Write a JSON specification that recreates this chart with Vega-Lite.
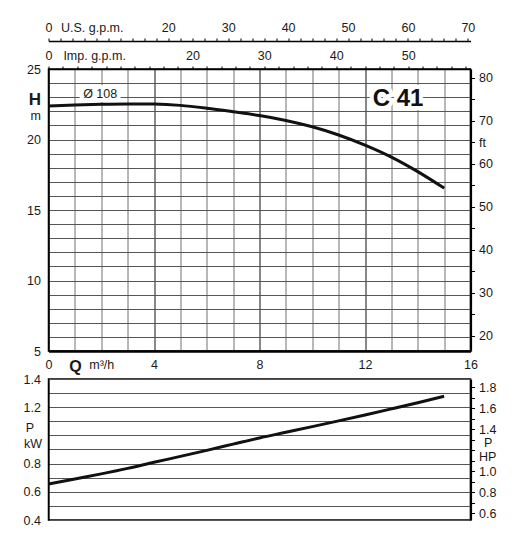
{
  "$schema": "https://vega.github.io/schema/vega-lite/v6.json",
  "background": "white",
  "padding": {"left": 21.5, "top": 20, "right": 5, "bottom": 5},
  "config": {
    "font": "Liberation Sans",
    "view": {"stroke": "black", "strokeWidth": 1.5},
    "axis": {
      "labelFont": "Liberation Sans",
      "labelFontSize": 12.5,
      "labelColor": "#1a1a1a",
      "labelOverlap": false,
      "labelFlush": false,
      "labelBound": false,
      "domainColor": "black",
      "tickColor": "black",
      "gridOpacity": 1
    },
    "text": {"font": "Liberation Sans"}
  },
  "datasets": {
    "head": [
      {"Q": 0, "H": 22.38}, {"Q": 1, "H": 22.45}, {"Q": 2, "H": 22.5}, {"Q": 3, "H": 22.52},
      {"Q": 4, "H": 22.51}, {"Q": 5, "H": 22.42}, {"Q": 6, "H": 22.22}, {"Q": 7, "H": 21.97},
      {"Q": 8, "H": 21.7}, {"Q": 9, "H": 21.35}, {"Q": 10, "H": 20.9}, {"Q": 11, "H": 20.32},
      {"Q": 12, "H": 19.6}, {"Q": 13, "H": 18.75}, {"Q": 14, "H": 17.72}, {"Q": 15, "H": 16.55}
    ],
    "power": [
      {"Q": 0, "P": 0.655}, {"Q": 1, "P": 0.691}, {"Q": 2, "P": 0.727}, {"Q": 3, "P": 0.766},
      {"Q": 4, "P": 0.809}, {"Q": 5, "P": 0.851}, {"Q": 6, "P": 0.894}, {"Q": 7, "P": 0.938},
      {"Q": 8, "P": 0.982}, {"Q": 9, "P": 1.022}, {"Q": 10, "P": 1.062}, {"Q": 11, "P": 1.103},
      {"Q": 12, "P": 1.145}, {"Q": 13, "P": 1.188}, {"Q": 14, "P": 1.232}, {"Q": 15, "P": 1.278}
    ],
    "notes": [
      {"label": "Ø 108", "Q": 1.96, "H": 23.2}
    ],
    "model": [
      {"label": "C 41", "Q": 13.25, "H": 22.85}
    ]
  },
  "spacing": 28,
  "bounds": "flush",
  "vconcat": [
    {
      "width": 422,
      "height": 282,
      "layer": [
        {
          "data": {"name": "head"},
          "mark": {"type": "line", "interpolate": "monotone", "color": "#111", "strokeWidth": 3},
          "encoding": {
            "x": {
              "field": "Q", "type": "quantitative", "title": null,
              "scale": {"domain": [0, 16], "nice": false, "zero": false},
              "axis": {
                "orient": "bottom",
                "values": [0,1,2,3,4,5,6,7,8,9,10,11,12,13,14,15,16],
                "grid": true,
                "gridColor": {"condition": {"test": "datum.value % 4 === 0", "value": "#111"}, "value": "#707070"},
                "gridWidth": 1,
                "ticks": false,
                "tickSize": 0,
                "domainWidth": 2.5,
                "labelPadding": 7,
                "labelExpr": "datum.value === 1 ? 'Q' : (datum.value === 2 ? 'm³/h' : (datum.value % 4 === 0 ? datum.label : ''))",
                "labelFontWeight": {"condition": {"test": "datum.value === 1", "value": "bold"}, "value": "normal"},
                "labelFontSize": {"condition": {"test": "datum.value === 1", "value": 16}, "value": 12.5}
              }
            },
            "y": {
              "field": "H", "type": "quantitative", "title": null,
              "scale": {"domain": [5, 25], "nice": false, "zero": false},
              "axis": {
                "orient": "left",
                "values": [5,6,7,8,9,10,11,12,13,14,15,16,17,18,19,20,21,22,23,24,25],
                "grid": true,
                "gridColor": "#555",
                "gridWidth": 1,
                "ticks": false,
                "tickSize": 0,
                "domainWidth": 1.2,
                "labelPadding": 8,
                "labelExpr": "datum.value === 23 ? 'H' : (datum.value === 22 ? 'm' : (datum.value % 5 === 0 ? datum.label : ''))",
                "labelFontWeight": {"condition": {"test": "datum.value === 23", "value": "bold"}, "value": "normal"},
                "labelFontSize": {"condition": {"test": "datum.value === 23", "value": 17}, "value": 12.5},
                "labelOffset": {"condition": [{"test": "datum.value === 23", "value": 2}, {"test": "datum.value === 22", "value": 4}], "value": 0}
              }
            }
          }
        },
        {
          "data": {"name": "notes"},
          "mark": {"type": "text", "fontSize": 12.5, "fill": "white", "stroke": "white", "strokeWidth": 8, "strokeJoin": "round"},
          "encoding": {
            "x": {"field": "Q", "type": "quantitative", "axis": null},
            "y": {"field": "H", "type": "quantitative", "axis": null},
            "text": {"field": "label"}
          }
        },
        {
          "data": {"name": "notes"},
          "mark": {"type": "text", "fontSize": 12.5, "color": "#1a1a1a"},
          "encoding": {
            "x": {"field": "Q", "type": "quantitative", "axis": null},
            "y": {"field": "H", "type": "quantitative", "axis": null},
            "text": {"field": "label"}
          }
        },
        {
          "data": {"name": "model"},
          "mark": {"type": "text", "fontSize": 24, "fontWeight": "bold", "fill": "white", "stroke": "white", "strokeWidth": 8, "strokeJoin": "miter"},
          "encoding": {
            "x": {"field": "Q", "type": "quantitative", "axis": null},
            "y": {"field": "H", "type": "quantitative", "axis": null},
            "text": {"field": "label"}
          }
        },
        {
          "data": {"name": "model"},
          "mark": {"type": "text", "fontSize": 24, "fontWeight": "bold", "color": "#111"},
          "encoding": {
            "x": {"field": "Q", "type": "quantitative", "axis": null},
            "y": {"field": "H", "type": "quantitative", "axis": null},
            "text": {"field": "label"}
          }
        },
        {
          "data": {"name": "head"},
          "mark": {"type": "point", "opacity": 0},
          "encoding": {
            "x": {
              "field": "Q", "type": "quantitative", "title": null,
              "axis": {
                "orient": "top",
                "offset": 28,
                "values": [0,0.45425,0.9085,1.36275,1.817,2.27125,2.7255,3.17975,3.634,4.08824,4.54249,4.99674,5.45099,5.90524,6.35949,6.81374,7.26799,7.72224,8.17649,8.63074,9.08499,9.53924,9.99349,10.44774,10.90199,11.35624,11.81048,12.26473,12.71898,13.17323,13.62748,14.08173,14.53598,14.99023,15.44448,15.89873],
                "grid": false,
                "ticks": true,
                "tickSize": 3,
                "tickWidth": 1,
                "domainWidth": 1.5,
                "labelPadding": 4,
                "labelExpr": "round(datum.value * 4.40287) === 2 ? 'U.S. g.p.m.' : (round(datum.value * 4.40287) % 10 === 0 && round(datum.value * 4.40287) !== 10 ? format(round(datum.value * 4.40287), 'd') : '')",
                "labelAlign": {"condition": {"test": "round(datum.value * 4.40287) === 2", "value": "left"}, "value": "center"}
              }
            },
            "y": {
              "field": "H", "type": "quantitative", "title": null,
              "axis": {
                "orient": "right",
                "values": [6.096,7.62,9.144,10.668,12.192,13.716,15.24,16.764,18.288,19.812,21.336,22.86,24.384],
                "grid": false,
                "ticks": true,
                "tickSize": 4,
                "tickWidth": 1,
                "domainWidth": 2.2,
                "labelPadding": 4,
                "labelExpr": "round(datum.value / 0.3048) === 65 ? 'ft' : (round(datum.value / 0.3048) % 10 === 0 ? format(round(datum.value / 0.3048), 'd') : '')"
              }
            }
          }
        },
        {
          "data": {"name": "head"},
          "mark": {"type": "point", "opacity": 0},
          "encoding": {
            "x": {
              "field": "Q", "type": "quantitative", "title": null,
              "axis": {
                "orient": "top",
                "offset": 0,
                "values": [0,0.54553,1.09106,1.63659,2.18213,2.72766,3.27319,3.81872,4.36425,4.90978,5.45532,6.00085,6.54638,7.09191,7.63744,8.18297,8.72851,9.27404,9.81957,10.3651,10.91063,11.45616,12.0017,12.54723,13.09276,13.63829,14.18382,14.72935,15.27489,15.82042],
                "grid": false,
                "ticks": true,
                "tickSize": 3,
                "tickWidth": 1,
                "domainWidth": 1.5,
                "labelPadding": 4,
                "labelExpr": "round(datum.value * 3.66615) === 2 ? 'Imp. g.p.m.' : (round(datum.value * 3.66615) % 10 === 0 && round(datum.value * 3.66615) !== 10 ? format(round(datum.value * 3.66615), 'd') : '')",
                "labelAlign": {"condition": {"test": "round(datum.value * 3.66615) === 2", "value": "left"}, "value": "center"}
              }
            },
            "y": {"field": "H", "type": "quantitative", "axis": null}
          }
        }
      ],
      "resolve": {"axis": {"x": "independent", "y": "independent"}}
    },
    {
      "width": 422,
      "height": 141,
      "layer": [
        {
          "data": {"name": "power"},
          "mark": {"type": "line", "interpolate": "monotone", "color": "#111", "strokeWidth": 3},
          "encoding": {
            "x": {
              "field": "Q", "type": "quantitative", "title": null,
              "scale": {"domain": [0, 16], "nice": false, "zero": false},
              "axis": {
                "orient": "bottom",
                "values": [0,1,2,3,4,5,6,7,8,9,10,11,12,13,14,15,16],
                "grid": true,
                "gridColor": {"condition": {"test": "datum.value % 4 === 0", "value": "#111"}, "value": "#707070"},
                "gridWidth": 1,
                "ticks": false,
                "tickSize": 0,
                "labels": false,
                "domainWidth": 2.5
              }
            },
            "y": {
              "field": "P", "type": "quantitative", "title": null,
              "scale": {"domain": [0.4, 1.4], "nice": false, "zero": false},
              "axis": {
                "orient": "left",
                "values": [0.4,0.5,0.6,0.7,0.8,0.9,1.0,1.1,1.2,1.3,1.4],
                "grid": true,
                "gridColor": "#555",
                "gridWidth": 1,
                "ticks": false,
                "tickSize": 0,
                "domainWidth": 1.2,
                "labelPadding": {"condition": [{"test": "datum.value === 1", "value": 15}, {"test": "datum.value === 0.9", "value": 7}], "value": 8},
                "labelExpr": "datum.value === 1 ? 'P' : (datum.value === 0.9 ? 'kW' : (round(datum.value * 10) % 2 === 0 ? format(datum.value, '.1f') : ''))",
                "labelOffset": {"condition": [{"test": "datum.value === 1", "value": -7.5}, {"test": "datum.value === 0.9", "value": -6.5}], "value": 0}
              }
            }
          }
        },
        {
          "data": {"name": "power"},
          "mark": {"type": "point", "opacity": 0},
          "encoding": {
            "x": {"field": "Q", "type": "quantitative", "axis": null},
            "y": {
              "field": "P", "type": "quantitative", "title": null,
              "axis": {
                "orient": "right",
                "values": [0.44742,0.52199,0.59656,0.67113,0.7457,0.82027,0.89484,0.96941,1.04398,1.11855,1.19312,1.26769,1.34226],
                "grid": false,
                "ticks": true,
                "tickSize": 4,
                "tickWidth": 1,
                "domainWidth": 2.2,
                "labelPadding": {"condition": {"test": "round(datum.value * 13.4102) === 13", "value": 9}, "value": 4},
                "labelExpr": "round(datum.value * 13.4102) === 13 ? 'P' : (round(datum.value * 13.4102) === 12 ? 'HP' : (round(datum.value * 13.4102) % 2 === 0 ? format(round(datum.value * 13.4102) / 10, '.1f') : ''))",
                "labelOffset": {"condition": [{"test": "round(datum.value * 13.4102) === 13", "value": 3}, {"test": "round(datum.value * 13.4102) === 12", "value": 6}], "value": 0}
              }
            }
          }
        }
      ],
      "resolve": {"axis": {"y": "independent"}}
    }
  ]
}
